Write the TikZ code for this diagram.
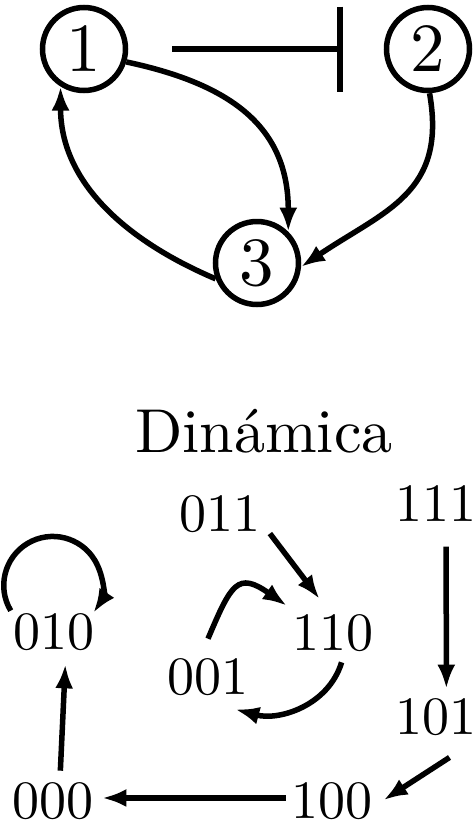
\documentclass[tikz,border=0pt]{standalone}
\usepackage{graphicx}
\usetikzlibrary{arrows.meta}
\begin{document}
\begin{tikzpicture}[x=1pt,y=1pt,
  line width=5.5pt,
  >={Latex[length=24pt,width=18pt]},
  gnode/.style={circle,draw,line width=5.5pt,minimum size=83pt,inner sep=0pt},
  snode/.style={inner sep=0pt},
  edge/.style={->,line width=5.5pt}]
\useasboundingbox (0,0) rectangle (475,-828);
% regulatory graph
\node[gnode] (n1) at (84,-49) {\scalebox{6.9}{1}};
\node[gnode] (n2) at (428,-49) {\scalebox{6.9}{2}};
\node[gnode] (n3) at (257,-263) {\scalebox{6.9}{3}};
\draw[-{Bar[width=85pt,line width=5.5pt]}, shorten <=44pt, shorten >=41pt] (n1) -- (n2);
\draw[edge] (n1.-17) to[out=-12,in=90,looseness=1.15] (n3.45);
\draw[edge] (n2.-88) to[out=-80,in=34,looseness=1.2] (n3.-5);
\draw[edge] (n3.-159) to[out=157,in=-90] (n1.-122);
% dynamics
\node[anchor=base] (title) at (264,-452) {\scalebox{6.2}{Dinámica}};
\node[snode] (s011) at (220,-514) {\scalebox{5.4}{011}};
\node[snode] (s111) at (436,-504) {\scalebox{5.4}{111}};
\node[snode] (s010) at (54,-632) {\scalebox{5.4}{010}};
\node[snode] (s110) at (333,-633) {\scalebox{5.4}{110}};
\node[snode] (s001) at (208,-677) {\scalebox{5.4}{001}};
\node[snode] (s101) at (436,-717) {\scalebox{5.4}{101}};
\node[snode] (s000) at (53,-801) {\scalebox{5.4}{000}};
\node[snode] (s100) at (332,-801) {\scalebox{5.4}{100}};
\draw[edge, shorten <=11pt, shorten >=16pt] (s011.-14) -- (s110.100);
\draw[edge, shorten <=22pt, shorten >=7pt] ([xshift=3pt]s111.-71) -- ([xshift=3pt]s101.71);
\draw[edge, shorten <=39pt, shorten >=10pt] ([xshift=3pt]s101.-24) -- (s100.-6);
\draw[edge, shorten <=3pt, shorten >=6pt] (s100.176) -- (s000.4);
\draw[edge, shorten <=9pt, shorten >=11pt] (s000.72) -- (s010.-61);
\draw[edge] (s010.north west) arc[start angle=211,end angle=-34,radius=49];
\draw[edge] ([yshift=17pt]s001.north) to[out=67,in=145,looseness=1.8] ([shift={(-3pt,6pt)}]s110.north west);
\draw[edge] ([yshift=-8pt]s110.-68) to[out=-107,in=-15] ([yshift=-11pt]s001.-38);
\end{tikzpicture}
\end{document}
